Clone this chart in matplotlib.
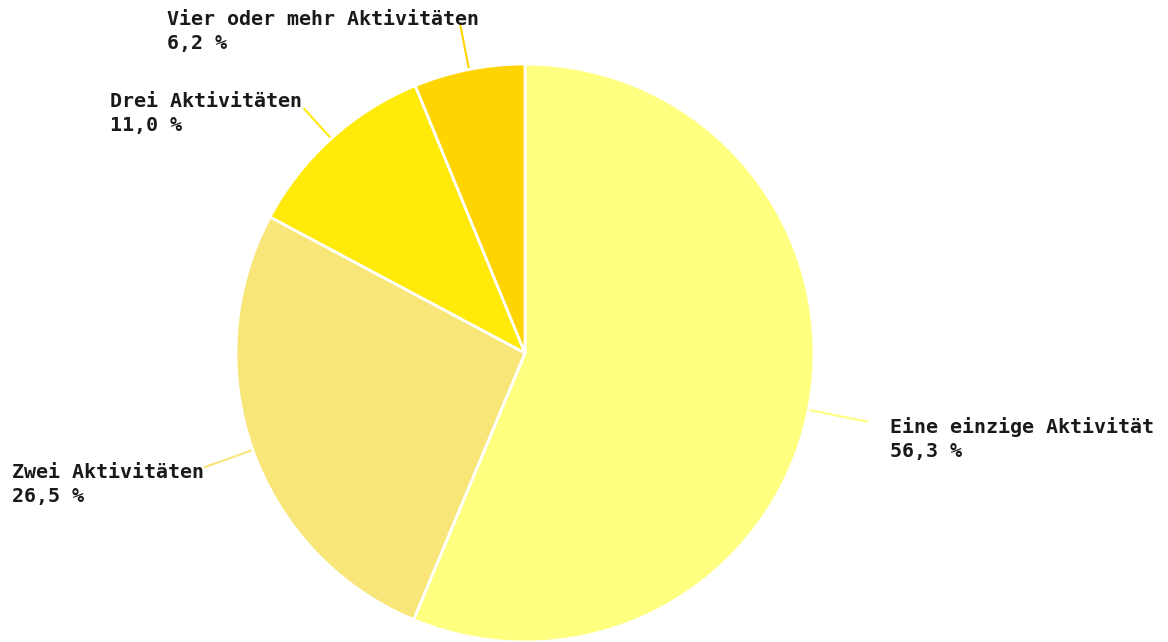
import numpy as np
import matplotlib.pyplot as plt

# Anteile (Prozent) und Beschriftungen
kategorien = ["Eine einzige Aktivität", "Zwei Aktivitäten", "Drei Aktivitäten", "Vier oder mehr Aktivitäten"]
werte = [56.3, 26.5, 11.0, 6.2]
werte_txt = ["56,3 %", "26,5 %", "11,0 %", "6,2 %"]
farben = ["#FFFF80", "#F8E679", "#FFEA0A", "#FFD400"]

# Layout in Pixeln (Bild 1168x642)
W, H = 1168, 642
mitte = (525, H - 353)
radius = 289
linien_ext = [60, 51, 40, 46]
text_pos = [(890, H - 417), (12, H - 463), (110, H - 92), (167, H - 10)]

fig = plt.figure(figsize=(W / 100, H / 100), dpi=100)
ax = fig.add_axes([0, 0, 1, 1])

wedges, _ = ax.pie(werte, colors=farben, startangle=90, counterclock=False,
                   center=mitte, radius=radius, frame=True,
                   wedgeprops=dict(edgecolor="white", linewidth=2))
ax.set_xlim(0, W)
ax.set_ylim(0, H)
ax.set_aspect("equal")
ax.axis("off")

for w, farbe, ext, (tx, ty), kat, wt in zip(wedges, farben, linien_ext, text_pos, kategorien, werte_txt):
    # Verbindungslinie radial aus der Mitte des Segments
    winkel = np.deg2rad((w.theta1 + w.theta2) / 2)
    x0 = mitte[0] + radius * np.cos(winkel)
    y0 = mitte[1] + radius * np.sin(winkel)
    x1 = mitte[0] + (radius + ext) * np.cos(winkel)
    y1 = mitte[1] + (radius + ext) * np.sin(winkel)
    ax.plot([x0, x1], [y0, y1], color=farbe, linewidth=1.5, zorder=0)
    ax.text(tx, ty, kat + "\n" + wt, ha="left", va="top", fontsize=14.4,
            family="DejaVu Sans Mono", fontweight="bold", color="#1a1a1a",
            linespacing=1.35)

fig.savefig("out.png", dpi=100)
